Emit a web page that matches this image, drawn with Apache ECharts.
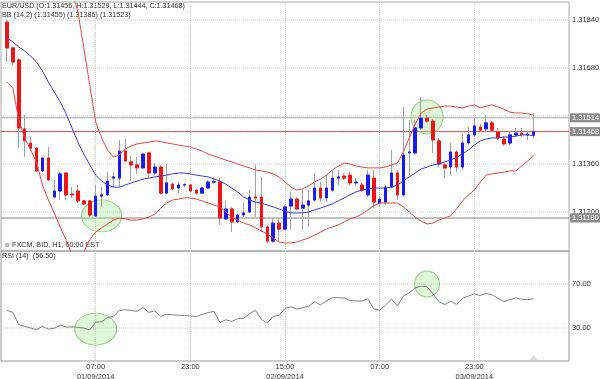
<!DOCTYPE html>
<html><head><meta charset="utf-8">
<script src="https://cdn.jsdelivr.net/npm/echarts@6/dist/echarts.min.js"></script>
<style>html,body{margin:0;padding:0;background:#fff}#c{width:600px;height:379px}</style>
</head><body><div id="c"></div>
<script>
// ---- data ----
const slotCount = 97;                 // hourly slots from 15:00 31/08/2014
const tickIndex = [16, 32, 48, 64, 80];
const tickLabels = ['07:00\n01/09/2014', '23:00', '15:00\n02/09/2014', '07:00', '23:00\n03/09/2014'];
const priceTicks = [1.3120, 1.3136, 1.3152, 1.3168, 1.3184];
const priceLabelTicks = [1.3120, 1.3136, 1.3168, 1.3184];
const rsiTicks = [30, 70];
const refLevels = [1.31514, 1.31468, 1.31180];

const opens = [1.31833,1.31747,1.31707,1.31477,1.31430,1.31413,1.31337,1.31380,1.31250,1.31270,
1.31330,1.31260,1.31270,1.31237,1.31237,1.31187,1.31253,1.31257,1.31313,1.31313,
1.31403,1.31367,1.31357,1.31347,1.31397,1.31330,1.31350,1.31263,1.31293,1.31280,
1.31290,1.31290,1.31273,1.31263,1.31280,1.31300,1.31300,1.31177,1.31210,1.31167,
1.31190,1.31200,1.31250,1.31250,1.31150,1.31103,1.31163,1.31143,1.31220,1.31243,
1.31213,1.31223,1.31240,1.31280,1.31247,1.31273,1.31313,1.31320,1.31323,1.31297,
1.31290,1.31257,1.31313,1.31230,1.31233,1.31283,1.31330,1.31257,1.31397,1.31397,
1.31480,1.31513,1.31503,1.31437,1.31357,1.31350,1.31400,1.31350,1.31430,1.31457,
1.31483,1.31477,1.31497,1.31467,1.31443,1.31430,1.31457,1.31463,1.31457,1.31456];
const closes = [1.31747,1.31700,1.31480,1.31437,1.31413,1.31337,1.31380,1.31307,1.31270,1.31327,
1.31257,1.31257,1.31237,1.31227,1.31190,1.31253,1.31257,1.31303,1.31317,1.31403,
1.31370,1.31357,1.31347,1.31393,1.31330,1.31350,1.31263,1.31297,1.31277,1.31290,
1.31291,1.31270,1.31263,1.31280,1.31300,1.31301,1.31180,1.31210,1.31167,1.31190,
1.31197,1.31250,1.31247,1.31150,1.31103,1.31163,1.31143,1.31217,1.31243,1.31210,
1.31223,1.31237,1.31280,1.31247,1.31280,1.31313,1.31317,1.31313,1.31297,1.31300,
1.31273,1.31323,1.31233,1.31243,1.31283,1.31330,1.31257,1.31390,1.31400,1.31480,
1.31513,1.31503,1.31440,1.31360,1.31347,1.31400,1.31350,1.31430,1.31457,1.31487,
1.31473,1.31497,1.31473,1.31447,1.31427,1.31457,1.31463,1.31457,1.31460,1.31468];
const lows = [1.31700,1.31687,1.31413,1.31383,1.31407,1.31333,1.31333,1.31303,1.31247,1.31240,
1.31240,1.31247,1.31230,1.31223,1.31183,1.31183,1.31217,1.31253,1.31283,1.31283,
1.31367,1.31303,1.31327,1.31343,1.31313,1.31323,1.31257,1.31260,1.31273,1.31263,
1.31283,1.31267,1.31257,1.31260,1.31277,1.31293,1.31157,1.31173,1.31133,1.31163,
1.31183,1.31197,1.31183,1.31133,1.31097,1.31097,1.31100,1.31140,1.31140,1.31207,
1.31140,1.31150,1.31233,1.31233,1.31233,1.31267,1.31290,1.31307,1.31290,1.31287,
1.31267,1.31250,1.31213,1.31217,1.31223,1.31280,1.31240,1.31250,1.31323,1.31390,
1.31473,1.31497,1.31397,1.31350,1.31313,1.31323,1.31333,1.31340,1.31423,1.31450,
1.31467,1.31470,1.31467,1.31440,1.31420,1.31423,1.31450,1.31447,1.31440,1.31444];
const highs = [1.31840,1.31750,1.31713,1.31523,1.31450,1.31417,1.31383,1.31417,1.31307,1.31333,
1.31330,1.31283,1.31290,1.31240,1.31237,1.31290,1.31283,1.31333,1.31333,1.31440,
1.31443,1.31387,1.31383,1.31397,1.31400,1.31363,1.31357,1.31360,1.31297,1.31300,
1.31297,1.31293,1.31277,1.31283,1.31307,1.31317,1.31313,1.31240,1.31217,1.31193,
1.31233,1.31273,1.31357,1.31317,1.31157,1.31180,1.31180,1.31223,1.31267,1.31250,
1.31273,1.31273,1.31330,1.31300,1.31323,1.31340,1.31340,1.31330,1.31333,1.31313,
1.31297,1.31340,1.31340,1.31253,1.31290,1.31407,1.31340,1.31550,1.31507,1.31507,
1.31583,1.31523,1.31510,1.31447,1.31363,1.31430,1.31407,1.31463,1.31483,1.31513,
1.31493,1.31523,1.31503,1.31480,1.31453,1.31470,1.31480,1.31480,1.31470,1.31529];

const bbUpper = [1.31927,1.31920,1.31993,1.32027,1.32033,1.32033,1.32050,1.32027,1.32003,1.31983,
1.31967,1.31933,1.31867,1.31747,1.31623,1.31500,1.31447,1.31407,1.31383,1.31390,
1.31410,1.31420,1.31427,1.31430,1.31433,1.31437,1.31435,1.31430,1.31427,1.31423,
1.31420,1.31417,1.31410,1.31403,1.31393,1.31387,1.31380,1.31373,1.31367,1.31360,
1.31353,1.31347,1.31340,1.31337,1.31333,1.31327,1.31317,1.31300,1.31283,1.31273,
1.31277,1.31287,1.31300,1.31310,1.31323,1.31340,1.31353,1.31363,1.31360,1.31353,
1.31350,1.31347,1.31347,1.31347,1.31350,1.31357,1.31363,1.31400,1.31447,1.31493,
1.31530,1.31543,1.31547,1.31550,1.31553,1.31553,1.31550,1.31547,1.31553,1.31557,
1.31547,1.31553,1.31557,1.31550,1.31543,1.31533,1.31530,1.31530,1.31527,1.31523];
const bbMid = [1.31780,1.31767,1.31750,1.31737,1.31720,1.31700,1.31670,1.31633,1.31600,1.31567,
1.31527,1.31480,1.31433,1.31393,1.31357,1.31323,1.31303,1.31290,1.31283,1.31283,
1.31290,1.31297,1.31303,1.31310,1.31313,1.31317,1.31320,1.31323,1.31327,1.31330,
1.31330,1.31327,1.31323,1.31320,1.31317,1.31310,1.31303,1.31293,1.31280,1.31267,
1.31250,1.31240,1.31233,1.31230,1.31223,1.31217,1.31210,1.31203,1.31197,1.31197,
1.31197,1.31200,1.31207,1.31213,1.31220,1.31227,1.31237,1.31247,1.31257,1.31267,
1.31273,1.31277,1.31280,1.31280,1.31280,1.31283,1.31290,1.31303,1.31317,1.31330,
1.31343,1.31350,1.31357,1.31360,1.31367,1.31373,1.31383,1.31393,1.31407,1.31423,
1.31437,1.31443,1.31447,1.31447,1.31450,1.31450,1.31453,1.31457,1.31457,1.31455];
const bbLower = [1.31633,1.31613,1.31507,1.31447,1.31407,1.31367,1.31290,1.31240,1.31197,1.31150,
1.31107,1.31057,1.31033,1.31067,1.31107,1.31133,1.31147,1.31160,1.31173,1.31180,
1.31177,1.31173,1.31173,1.31177,1.31183,1.31193,1.31213,1.31230,1.31240,1.31243,
1.31247,1.31247,1.31243,1.31237,1.31230,1.31223,1.31217,1.31200,1.31183,1.31173,
1.31163,1.31157,1.31147,1.31137,1.31127,1.31113,1.31100,1.31097,1.31097,1.31100,
1.31107,1.31113,1.31123,1.31133,1.31143,1.31150,1.31157,1.31167,1.31177,1.31183,
1.31193,1.31207,1.31220,1.31230,1.31230,1.31230,1.31230,1.31217,1.31200,1.31183,
1.31170,1.31160,1.31163,1.31173,1.31180,1.31187,1.31210,1.31237,1.31257,1.31273,
1.31300,1.31323,1.31327,1.31330,1.31333,1.31337,1.31337,1.31353,1.31370,1.31386];

const rsi = [46,44.2,33,31.5,30,28.5,31.5,29,29.8,32.5,
31,31,30.5,30,28.3,35.3,35.6,39.5,40.5,46,
46.5,46,45.1,48.5,44.2,45.6,40.5,42.5,42,41.6,
41.3,41,40.3,42.3,44,45.1,35,37.5,36,38.5,
38.9,43,46,38,34.4,40.5,41.5,47.8,49.2,47.2,
48.5,49.8,53.8,51,54.5,57.5,57.5,57.3,55,54.5,
54.5,56.5,47.5,46,51,56.3,50,59,62,66.4,
68,67.5,61.2,54,51.3,54.3,51.5,57,59,61,
59.6,61.5,60,57,54,55.8,57.3,56.2,55.8,56.5];

// annotation circles: [slot index, value, width, height]
const priceCircles = [[16.5, 1.31187, 40, 32], [72, 1.31517, 32, 34]];
const rsiCircles = [[15.5, 29, 42, 32], [71.5, 70, 25, 26]];
const rsiMarker = [[90, 3]];

// ---- build ----
const FONT = 'Liberation Sans, Arial, sans-serif';
const cats = [];
const t0 = Date.UTC(2014, 7, 31, 15);
for (let i = 0; i < slotCount; i++) {
  const d = new Date(t0 + i * 3600000);
  const p = n => String(n).padStart(2, '0');
  cats.push(p(d.getUTCHours()) + ':00 ' + p(d.getUTCDate()) + '/' + p(d.getUTCMonth() + 1));
}
const pad = arr => ['-'].concat(arr);
const flat = v => cats.map(() => v);
const fullCandles = ['-'].concat(opens.map((o, i) => [o, closes[i], lows[i], highs[i]]));
const bodyCandles = ['-'].concat(opens.map((o, i) => [o, closes[i], Math.min(o, closes[i]), Math.max(o, closes[i])]));
const showTick = idx => tickIndex.indexOf(idx) >= 0;
const dottedStyle = () => ({type: 'dotted', color: '#cfcfcf', width: 1});

const xBase = (gi, showLabels) => ({
  type: 'category', gridIndex: gi, data: cats, boundaryGap: false,
  axisLine: {show: false}, axisTick: {show: false},
  axisLabel: {show: showLabels, interval: (i) => showTick(i), fontFamily: FONT, fontSize: 7.5, color: '#333',
    lineHeight: 10, margin: 0.5, formatter: (v, i) => { const k = tickIndex.indexOf(i); return k >= 0 ? tickLabels[k] : ''; }},
  splitLine: {show: true, interval: (i) => showTick(i), lineStyle: dottedStyle()}
});

const refColors = ['#a8a8a8', '#cf4d4d', '#808080'];

const series = [];
priceTicks.forEach(t => series.push({type: 'line', xAxisIndex: 0, yAxisIndex: 0, data: flat(t), symbol: 'none', silent: true, z: 0,
  lineStyle: dottedStyle()}));
rsiTicks.forEach(t => series.push({type: 'line', xAxisIndex: 1, yAxisIndex: 1, data: flat(t), symbol: 'none', silent: true, z: 0,
  lineStyle: dottedStyle()}));
series.push(
  {type: 'scatter', xAxisIndex: 0, yAxisIndex: 0, z: 1, silent: true,
    data: priceCircles.map(c => ({value: [c[0], c[1]], symbolSize: [c[2], c[3]]})),
    itemStyle: {color: 'rgba(170,230,150,0.45)', borderColor: '#7cc46c', borderWidth: 1}},
  {type: 'scatter', xAxisIndex: 1, yAxisIndex: 1, z: 1, silent: true,
    data: rsiCircles.map(c => ({value: [c[0], c[1]], symbolSize: [c[2], c[3]]})),
    itemStyle: {color: 'rgba(170,230,150,0.45)', borderColor: '#7cc46c', borderWidth: 1}}
);
refLevels.forEach((v, i) => series.push({type: 'line', xAxisIndex: 0, yAxisIndex: 0, data: flat(v), symbol: 'none', silent: true, z: 1,
  lineStyle: {color: refColors[i], width: 1, type: 'solid'},
  endLabel: {show: true, distance: 1, formatter: () => v.toFixed(5), backgroundColor: '#8c8c8c', color: '#fff',
    padding: [1, 2, 0, 2], fontFamily: FONT, fontSize: 7.5}}));
series.push(
  {type: 'candlestick', xAxisIndex: 0, yAxisIndex: 0, data: fullCandles, barWidth: 3, z: 2,
    itemStyle: {color: '#a0a0a0', color0: '#a0a0a0', borderColor: '#a0a0a0', borderColor0: '#a0a0a0', borderWidth: 1}},
  {type: 'candlestick', xAxisIndex: 0, yAxisIndex: 0, data: bodyCandles, barWidth: 3, z: 3,
    itemStyle: {color: '#1a1aee', color0: '#ee1414', borderColor: '#1a1aee', borderColor0: '#ee1414', borderWidth: 1}},
  {type: 'line', xAxisIndex: 0, yAxisIndex: 0, data: pad(bbUpper), symbol: 'none', z: 4, lineStyle: {color: '#e04848', width: 1}},
  {type: 'line', xAxisIndex: 0, yAxisIndex: 0, data: pad(bbLower), symbol: 'none', z: 4, lineStyle: {color: '#e04848', width: 1}},
  {type: 'line', xAxisIndex: 0, yAxisIndex: 0, data: pad(bbMid), symbol: 'none', z: 4, lineStyle: {color: '#3a3ad6', width: 1}},
  {type: 'line', xAxisIndex: 1, yAxisIndex: 1, data: pad(rsi), symbol: 'none', z: 4, lineStyle: {color: '#808080', width: 1}},
  {type: 'scatter', xAxisIndex: 1, yAxisIndex: 1, z: 4, silent: true, data: rsiMarker,
    symbol: 'triangle', symbolSize: [9, 6], itemStyle: {color: '#cfcfcf'}}
);

const option = {
  animation: false,
  grid: [
    {left: 1, right: 31, top: 2, height: 249, show: true, borderColor: '#aaa', borderWidth: 1, containLabel: false, outerBoundsMode: 'none'},
    {left: 1, right: 31, top: 251, height: 110, show: true, borderColor: '#999', borderWidth: 1, containLabel: false, outerBoundsMode: 'none'}
  ],
  xAxis: [xBase(0, false), xBase(1, true)],
  yAxis: [
    {type: 'value', gridIndex: 0, position: 'right', min: 1.3107, max: 1.3190, interval: 0.0001,
      axisLine: {show: false}, axisTick: {show: false}, splitLine: {show: false},
      axisLabel: {fontFamily: FONT, fontSize: 7.5, color: '#333', margin: 3,
        formatter: v => priceLabelTicks.some(t => Math.abs(t - v) < 1e-7) ? v.toFixed(5) : ''}},
    {type: 'value', gridIndex: 1, position: 'right', min: 0, max: 100, interval: 10,
      axisLine: {show: false}, axisTick: {show: false}, splitLine: {show: false},
      axisLabel: {fontFamily: FONT, fontSize: 7.5, color: '#333', margin: 3,
        formatter: v => rsiTicks.indexOf(v) >= 0 ? v.toFixed(2) : ''}}
  ],
  graphic: [
    {type: 'text', left: 2, top: 2.5, style: {text: 'EUR/USD (O:1.31456, H:1.31529, L:1.31444, C:1.31468)', font: '7.2px ' + FONT, fill: '#333'}},
    {type: 'text', left: 2, top: 12, style: {text: 'BB (14,2) (1.31455) (1.31386) (1.31523)', font: '7.2px ' + FONT, fill: '#333'}},
    {type: 'rect', left: 5, top: 243, shape: {width: 4, height: 4}, style: {fill: '#bbb'}},
    {type: 'text', left: 12, top: 241.5, style: {text: 'FXCM, BID, H1, 00:00 EST', font: '7.2px ' + FONT, fill: '#333'}},
    {type: 'text', left: 2, top: 252.5, style: {text: 'RSI (14)  (56.50)', font: '7.2px ' + FONT, fill: '#333'}}
  ],
  series: series
};
echarts.init(document.getElementById('c')).setOption(option);
</script></body></html>
